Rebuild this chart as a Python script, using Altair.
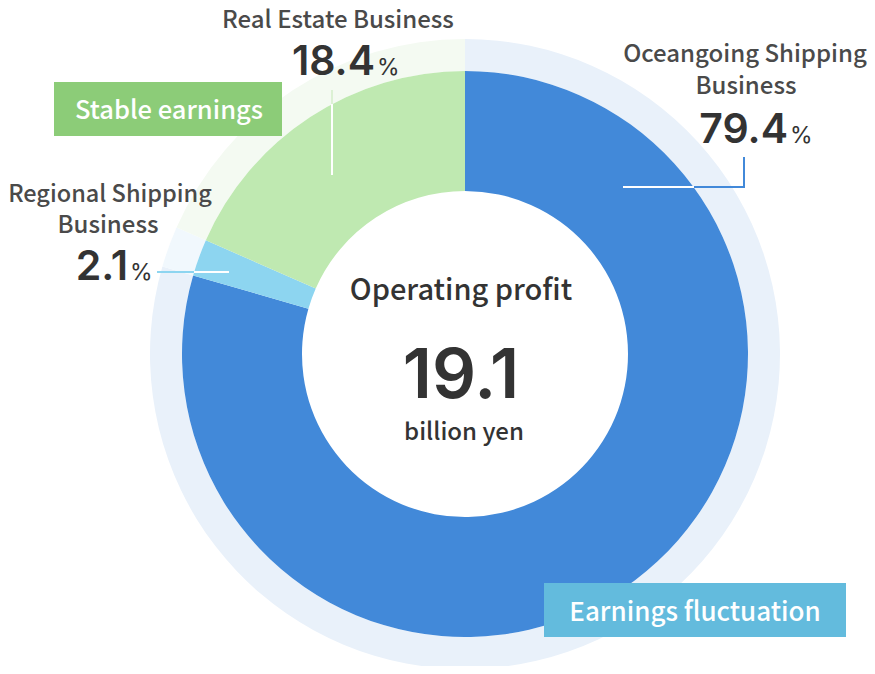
import altair as alt
import pandas as pd

# ---- data ----
segments = ["Oceangoing Shipping Business", "Regional Shipping Business", "Real Estate Business"]
shares = [79.4, 2.1, 18.4]
stack_order = [0, 1, 2]
share_labels = ["79.4", "2.1", "18.4"]
name_lines = [["Oceangoing Shipping", "Business"], ["Regional Shipping", "Business"], ["Real Estate Business"]]
center_title = "Operating profit"
center_value = "19.1"
center_unit = "billion yen"
group_labels = ["Stable earnings", "Earnings fluctuation"]

df = pd.DataFrame({"segment": segments, "share": shares, "idx": stack_order})
one = pd.DataFrame({"k": [0]})

OFF = 8  # page margin
CX, CY = 465 - OFF, 354 - OFF

FONT = "Noto Sans CJK JP"
NUMFONT = "Inter"
GRAY = "#4a4a4a"
DARK = "#333333"

ring_colors = ["#e9f1fa", "#f1f8fd", "#f4faf2"]
donut_colors = ["#4289d9", "#8dd5f0", "#bfe9b1"]


def arc_layer(r_out, r_in, colors):
    return alt.Chart(df).mark_arc(radius=r_out, radius2=r_in, strokeWidth=0).encode(
        theta=alt.Theta("share:Q", stack=True),
        order=alt.Order("idx:Q"),
        color=alt.Color("segment:N", scale=alt.Scale(domain=segments, range=colors), legend=None),
        x=alt.value(CX), y=alt.value(CY),
    )


def txt(s, x, y, size, weight, color, align="center", font=FONT):
    return alt.Chart(one).mark_text(
        text=s, fontSize=size, fontWeight=weight, color=color, align=align,
        baseline="alphabetic", font=font,
    ).encode(x=alt.value(x - OFF), y=alt.value(y - OFF))


def rule(x1, y1, x2, y2, color, w=2):
    return alt.Chart(one).mark_rule(color=color, strokeWidth=w).encode(
        x=alt.value(x1 - OFF), x2=alt.value(x2 - OFF), y=alt.value(y1 - OFF), y2=alt.value(y2 - OFF)
    )


def box(x1, y1, x2, y2, color):
    return alt.Chart(one).mark_rect(color=color).encode(
        x=alt.value(x1 - OFF), x2=alt.value(x2 - OFF), y=alt.value(y1 - OFF), y2=alt.value(y2 - OFF)
    )


layers = [
    arc_layer(315, 283, ring_colors),
    arc_layer(283, 163, donut_colors),
    # leader lines
    rule(623, 187, 694, 187, "#ffffff"),
    rule(694, 187, 745, 187, donut_colors[0]),
    rule(744, 157, 744, 188, donut_colors[0]),
    rule(194, 272, 229, 272, "#ffffff"),
    rule(157, 272, 194, 272, donut_colors[1]),
    rule(332, 90, 332, 104, "#dcf1d4"),
    rule(332, 104, 332, 175, "#ffffff"),
    # group boxes
    box(54, 82, 282, 136, "#8ccc78"),
    box(544, 583, 846, 637, "#63bbdd"),
    txt(group_labels[0], 169, 119, 25.5, 500, "#ffffff"),
    txt(group_labels[1], 695, 621, 26, 500, "#ffffff"),
    # segment names
    txt(name_lines[0][0], 745, 62, 24, 500, GRAY),
    txt(name_lines[0][1], 746, 94, 24, 500, GRAY),
    txt(name_lines[1][0], 110, 202, 23.5, 500, GRAY),
    txt(name_lines[1][1], 108, 233, 24, 500, GRAY),
    txt(name_lines[2][0], 338, 28, 24, 500, GRAY),
    # shares
    txt(share_labels[0], 788, 143, 41, 600, DARK, align="right", font=NUMFONT),
    txt("%", 790, 143, 23, 400, DARK, align="left", font=NUMFONT),
    txt(share_labels[1], 128, 280, 41, 600, DARK, align="right", font=NUMFONT),
    txt("%", 130, 280, 23, 400, DARK, align="left", font=NUMFONT),
    txt(share_labels[2], 375, 75, 41, 600, DARK, align="right", font=NUMFONT),
    txt("%", 377, 75, 23, 400, DARK, align="left", font=NUMFONT),
    # center
    txt(center_title, 461, 300, 29, 500, DARK),
    txt(center_value, 461, 398, 69, 600, DARK, font=NUMFONT),
    txt(center_unit, 464, 440, 24, 500, DARK),
]

chart = alt.layer(*layers).properties(
    width=859, height=658, padding=0,
    autosize=alt.AutoSizeParams(type="none"),
).resolve_scale(color="independent").configure_view(stroke=None)

chart.save("out.html", embed_options={"renderer": "svg", "actions": False})
